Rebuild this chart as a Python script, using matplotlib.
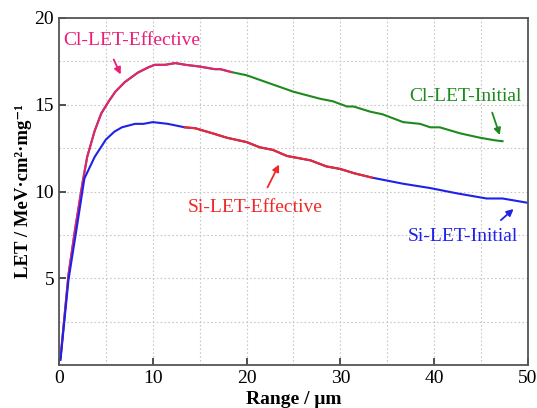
import numpy as np
import matplotlib.pyplot as plt
from matplotlib.ticker import MultipleLocator

# Cl ion: LET vs range (effective part at the start, initial afterwards)
cl_range = [0.15, 1.0, 1.7, 2.5, 3.0, 3.8, 4.5, 5.3, 6.0, 7.0, 8.4, 9.5, 10.2, 11.3,
            12.4, 13.5, 15.0, 16.6, 17.2, 18.4, 20.0, 22.1, 25.0, 27.8, 29.2, 30.7,
            31.4, 33.2, 34.5, 36.7, 38.5, 39.6, 40.6, 42.8, 44.9, 46.5, 47.3]
cl_let = [0.4, 5.2, 7.8, 10.5, 12.0, 13.5, 14.5, 15.2, 15.75, 16.3, 16.85, 17.15, 17.3, 17.3,
          17.4, 17.3, 17.2, 17.05, 17.05, 16.88, 16.7, 16.3, 15.75, 15.35, 15.2, 14.9,
          14.9, 14.6, 14.45, 14.0, 13.9, 13.7, 13.7, 13.35, 13.1, 12.95, 12.9]
cl_eff_end = 18.4

# Si ion
si_range = [0.15, 1.0, 1.85, 2.7, 3.8, 5.0, 5.9, 6.7, 8.1, 9.0, 10.0, 11.6, 13.4, 14.5,
            16.4, 17.9, 20.0, 21.4, 22.8, 24.3, 26.8, 28.5, 30.0, 31.5, 33.4, 36.7,
            39.6, 42.4, 45.6, 47.3, 48.4, 50.0]
si_let = [0.3, 4.9, 7.8, 10.75, 12.0, 13.0, 13.45, 13.7, 13.9, 13.9, 14.0, 13.9, 13.7, 13.65,
          13.35, 13.1, 12.85, 12.55, 12.4, 12.05, 11.8, 11.45, 11.3, 11.05, 10.8, 10.45,
          10.2, 9.9, 9.6, 9.6, 9.5, 9.35]
si_eff_start, si_eff_end = 13.4, 33.4

pink, green, red, blue = '#EB1E78', '#1E8A1E', '#F02828', '#2020EB'

plt.rcParams['font.family'] = ['Liberation Serif', 'DejaVu Serif']

fig = plt.figure(figsize=(5.37, 4.08), dpi=100)
ax = fig.add_axes([0.110, 0.105, 0.873, 0.851])

cl_r = np.array(cl_range); cl_l = np.array(cl_let)
si_r = np.array(si_range); si_l = np.array(si_let)

ax.plot(cl_r, cl_l, color=green, lw=1.5)
m = cl_r <= cl_eff_end
ax.plot(cl_r[m], cl_l[m], color=pink, lw=1.5)

ax.plot(si_r, si_l, color=blue, lw=1.5)
m = (si_r >= si_eff_start) & (si_r <= si_eff_end)
ax.plot(si_r[m], si_l[m], color=red, lw=1.5)

ax.set_xlim(0, 50)
ax.set_ylim(0, 20)
ax.xaxis.set_major_locator(MultipleLocator(10))
ax.xaxis.set_minor_locator(MultipleLocator(5))
ax.yaxis.set_major_locator(MultipleLocator(5))
ax.yaxis.set_minor_locator(MultipleLocator(2.5))
ax.set_yticks([5, 10, 15, 20])
ax.grid(True, which='both', ls=(0, (1.5, 2)), color='#c8c8c8', lw=0.8)
ax.tick_params(which='major', direction='in', length=5, width=1.2, labelsize=14, colors='#333333',
               labelcolor='black')
ax.tick_params(which='minor', length=0)
for s in ax.spines.values():
    s.set_color('#555555')
    s.set_linewidth(1.3)

ax.set_xlabel('Range / μm', fontsize=14, fontweight='bold', labelpad=3)
ax.set_ylabel('LET / MeV·cm²·mg⁻¹', fontsize=13.5, fontweight='bold', labelpad=2)

fs = 14
ax.text(7.8, 18.7, 'Cl-LET-Effective', color=pink, fontsize=fs, ha='center', va='center')
ax.annotate('', xy=(6.7, 16.6), xytext=(5.7, 17.75),
            arrowprops=dict(arrowstyle='-|>', color=pink, lw=1.3, mutation_scale=10))
ax.text(43.3, 15.45, 'Cl-LET-Initial', color=green, fontsize=fs, ha='center', va='center')
ax.annotate('', xy=(47.1, 13.1), xytext=(46.1, 14.7),
            arrowprops=dict(arrowstyle='-|>', color=green, lw=1.3, mutation_scale=10))
ax.text(20.9, 9.1, 'Si-LET-Effective', color=red, fontsize=fs, ha='center', va='center')
ax.annotate('', xy=(23.6, 11.7), xytext=(22.1, 10.1),
            arrowprops=dict(arrowstyle='-|>', color=red, lw=1.3, mutation_scale=10))
ax.text(43.1, 7.4, 'Si-LET-Initial', color=blue, fontsize=fs, ha='center', va='center')
ax.annotate('', xy=(48.7, 9.1), xytext=(46.9, 8.25),
            arrowprops=dict(arrowstyle='-|>', color=blue, lw=1.3, mutation_scale=10))

fig.savefig('out.png', dpi=100)
